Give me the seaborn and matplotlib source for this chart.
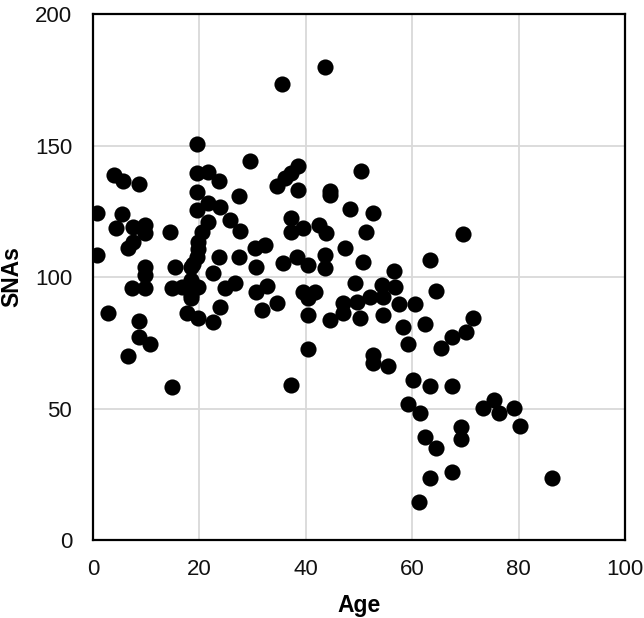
import matplotlib
matplotlib.use("Agg")
import matplotlib.pyplot as plt
import seaborn as sns
import pandas as pd

age = [0.7, 0.7, 2.8, 3.9, 4.4, 5.5, 5.7, 6.6, 6.6, 7.6, 7.6, 7.3, 8.6, 8.7, 8.7, 9.8, 9.8, 9.8, 9.8, 9.8, 10.8,
       14.5, 14.8, 14.8, 15.4, 16.7, 17.6, 18.5, 18.5, 18.5, 18.5, 19.6, 19.6, 19.6, 19.6, 19.8, 19.8, 19.5, 18.8,
       19.8, 19.8, 20.5, 21.7, 21.7, 21.7, 22.6, 22.6, 23.7, 23.9, 23.7, 23.9, 24.8, 25.8, 26.6, 27.4, 27.6, 27.4,
       29.5, 30.5, 30.6, 30.6, 31.7, 32.3, 32.7, 34.5, 34.6, 35.6, 35.8, 36.1, 37.3, 37.3, 37.3, 37.3, 38.5, 38.5,
       38.3, 39.5, 39.5, 40.5, 40.5, 40.5, 40.5, 41.7, 42.5, 43.6, 43.8, 44.5, 44.5, 43.6, 43.6, 44.5, 47.4, 47.0,
       47.0, 48.3, 49.2, 49.6, 50.4, 50.8, 50.2, 51.4, 52.6, 52.1, 52.6, 52.6, 54.3, 54.6, 54.6, 55.5, 56.6, 56.8,
       57.6, 58.3, 59.3, 59.3, 60.2, 60.5, 61.4, 61.3, 62.4, 62.4, 63.3, 63.3, 63.3, 64.5, 64.5, 65.4, 67.5, 67.5,
       67.5, 69.2, 69.2, 69.5, 70.2, 71.4, 73.4, 75.4, 76.4, 79.2, 80.3, 86.3]
snas = [124.2, 108.4, 86.2, 138.8, 118.5, 124.0, 136.6, 70.1, 110.9, 113.4, 119.1, 95.7, 135.4, 83.4, 77.1, 119.8,
        116.6, 103.9, 100.8, 95.7, 74.5,
        117.2, 58.1, 95.7, 103.7, 96.3, 86.5, 103.7, 98.9, 93.2, 91.9, 150.6, 139.4, 132.4, 125.5, 113.4, 110.6,
        107.7, 105.0, 96.3, 84.3, 117.2, 139.8, 128.0, 121.0, 101.4, 83.0, 136.6, 126.7, 107.7, 88.7, 95.7, 121.7,
        97.6, 130.8, 117.6, 107.7,
        144.2, 110.9, 103.7, 94.4, 87.5, 112.2, 96.7, 90.0, 134.6, 173.4, 105.4, 137.5, 139.4, 122.6, 117.0, 58.9,
        142.3, 133.1, 107.7, 118.5, 94.4, 104.6, 91.9, 85.6, 72.5, 94.4, 119.6, 180.0, 116.6, 132.7, 131.2, 108.4,
        103.3, 83.6, 111.2, 90.0, 86.2, 125.7, 97.6, 90.6, 140.3, 105.8, 84.3, 117.2, 124.2, 92.5, 70.3, 67.4,
        97.0, 92.5, 85.6, 66.2, 102.4, 96.3, 89.9, 80.9, 74.4, 51.7, 60.8, 89.9, 48.2, 14.3, 82.0, 39.0, 106.5,
        58.6, 23.7, 94.7, 34.9, 72.9, 77.1, 58.6, 26.0, 43.1, 38.3, 116.5, 79.2, 84.3, 50.1, 53.2, 48.2, 50.3,
        43.3, 23.7]

x_ticks = [0, 20, 40, 60, 80, 100]
y_ticks = [0, 50, 100, 150, 200]

df = pd.DataFrame({"Age": age, "SNAs": snas})

sns.set_style("white")
plt.rcParams["font.family"] = ["Liberation Sans", "DejaVu Sans"]

fig = plt.figure(figsize=(6.44, 6.18), dpi=100)
ax = fig.add_axes([0.1444, 0.1262, 0.8261, 0.8511])

sns.scatterplot(data=df, x="Age", y="SNAs", ax=ax, color="black", s=135, edgecolor="black",
                linewidth=0, zorder=3, legend=False)

ax.set_xlim(0, 100)
ax.set_ylim(0, 200)
ax.set_xticks(x_ticks)
ax.set_yticks(y_ticks)
ax.set_xticklabels([str(t) for t in x_ticks])
ax.set_yticklabels([str(t) for t in y_ticks])
ax.grid(True, color="#d9d9d9", linewidth=1.3, zorder=0)
ax.set_axisbelow(True)
ax.tick_params(axis="both", length=0, labelsize=16, colors="#111111")
ax.tick_params(axis="x", pad=14)
ax.tick_params(axis="y", pad=15)
for sp in ax.spines.values():
    sp.set_color("black")
    sp.set_linewidth(1.6)
    sp.set_visible(True)

ax.set_xlabel("Age", fontsize=16.5, fontweight="bold", labelpad=10, color="black")
ax.set_ylabel("SNAs", fontsize=16.5, fontweight="bold", labelpad=8, color="black")

fig.savefig("out.png", dpi=100, facecolor="white")
